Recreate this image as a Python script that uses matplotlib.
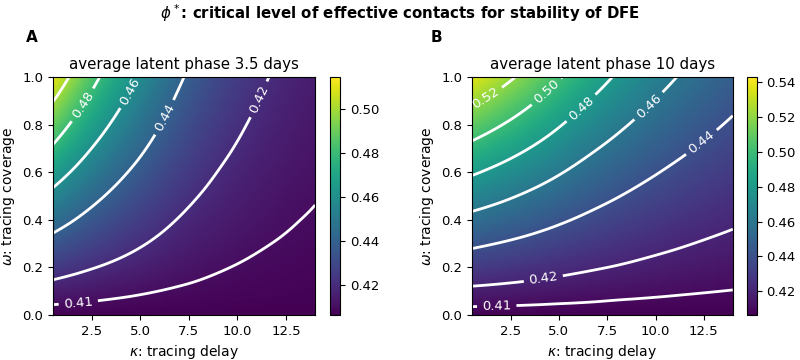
import matplotlib
matplotlib.use('Agg')
import matplotlib.pyplot as plt
import matplotlib.tri as mtri
import numpy as np

# grid of the parameter scan
kappa = [0.5, 2.0, 3.5, 5.0, 6.5, 8.0, 9.5, 11.0, 12.5, 14.0]
omega = [0.0, 0.1, 0.2, 0.3, 0.4, 0.5, 0.6, 0.7, 0.8, 0.9, 1.0]

# phi*, one list per kappa column (omega 0 -> 1)
phi_latent_3_5 = [
    [0.4063, 0.4152, 0.4253, 0.4354, 0.4458, 0.4563, 0.4670, 0.4781, 0.4892, 0.5004, 0.5115],
    [0.4063, 0.4135, 0.4216, 0.4298, 0.4381, 0.4465, 0.4552, 0.4641, 0.4730, 0.4820, 0.4910],
    [0.4063, 0.4120, 0.4185, 0.4249, 0.4315, 0.4382, 0.4450, 0.4521, 0.4592, 0.4663, 0.4734],
    [0.4063, 0.4107, 0.4158, 0.4208, 0.4259, 0.4311, 0.4364, 0.4419, 0.4474, 0.4530, 0.4585],
    [0.4063, 0.4096, 0.4134, 0.4172, 0.4210, 0.4249, 0.4289, 0.4330, 0.4372, 0.4413, 0.4455],
    [0.4063, 0.4088, 0.4115, 0.4143, 0.4171, 0.4200, 0.4230, 0.4260, 0.4291, 0.4321, 0.4352],
    [0.4063, 0.4081, 0.4101, 0.4122, 0.4143, 0.4164, 0.4185, 0.4208, 0.4230, 0.4253, 0.4275],
    [0.4063, 0.4076, 0.4091, 0.4106, 0.4122, 0.4137, 0.4153, 0.4169, 0.4186, 0.4202, 0.4219],
    [0.4063, 0.4073, 0.4084, 0.4095, 0.4106, 0.4117, 0.4129, 0.4141, 0.4153, 0.4165, 0.4177],
    [0.4063, 0.4070, 0.4078, 0.4086, 0.4095, 0.4103, 0.4112, 0.4120, 0.4129, 0.4138, 0.4147],
]

# phi*
phi_latent_10 = [
    [0.4063, 0.4174, 0.4300, 0.4426, 0.4554, 0.4685, 0.4819, 0.4956, 0.5095, 0.5234, 0.5373],
    [0.4063, 0.4165, 0.4280, 0.4394, 0.4512, 0.4631, 0.4753, 0.4879, 0.5005, 0.5132, 0.5259],
    [0.4063, 0.4155, 0.4258, 0.4361, 0.4467, 0.4574, 0.4684, 0.4797, 0.4911, 0.5025, 0.5139],
    [0.4063, 0.4144, 0.4235, 0.4326, 0.4420, 0.4515, 0.4612, 0.4712, 0.4812, 0.4913, 0.5014],
    [0.4063, 0.4134, 0.4213, 0.4293, 0.4374, 0.4457, 0.4541, 0.4628, 0.4716, 0.4804, 0.4892],
    [0.4063, 0.4124, 0.4194, 0.4263, 0.4333, 0.4406, 0.4479, 0.4555, 0.4631, 0.4708, 0.4784],
    [0.4063, 0.4116, 0.4176, 0.4236, 0.4297, 0.4360, 0.4424, 0.4489, 0.4556, 0.4622, 0.4688],
    [0.4063, 0.4109, 0.4161, 0.4213, 0.4266, 0.4321, 0.4376, 0.4433, 0.4490, 0.4548, 0.4605],
    [0.4063, 0.4103, 0.4148, 0.4193, 0.4239, 0.4286, 0.4334, 0.4384, 0.4433, 0.4483, 0.4533],
    [0.4063, 0.4098, 0.4137, 0.4176, 0.4216, 0.4256, 0.4298, 0.4341, 0.4384, 0.4427, 0.4470],
]

levels = [0.41, 0.42, 0.44, 0.46, 0.48, 0.50, 0.52]
titles = ['average latent phase 3.5 days', 'average latent phase 10 days']
tags = ['A', 'B']
color_limits = [(0.4063, 0.5147), (0.4063, 0.543)]

# where the inline labels sit (kappa, omega)
label_levels = [[0.41, 0.42, 0.44, 0.46, 0.48],
                [0.41, 0.42, 0.44, 0.46, 0.48, 0.50, 0.52]]
label_spots = [
    [(1.8, 0.053), (11.0, 0.91), (6.18, 0.833), (4.38, 0.945), (1.89, 0.89)],
    [(1.78, 0.042), (4.19, 0.154), (12.29, 0.735), (9.6, 0.882), (6.09, 0.875),
     (4.36, 0.938), (1.26, 0.903)],
]


def smooth_field(cols):
    # triangulate the scan grid (kappa rescaled so cells are near square)
    # and let matplotlib's cubic interpolator render it smoothly
    z = np.array(cols).T
    span = kappa[-1] - kappa[0]
    kk, ww = np.meshgrid(np.array(kappa) / span, omega)
    nr, nc = z.shape
    tris = []
    for r in range(nr - 1):
        for c in range(nc - 1):
            a = r * nc + c
            tris.append([a, a + 1, a + nc + 1])
            tris.append([a, a + nc + 1, a + nc])
    tri = mtri.Triangulation(kk.ravel(), ww.ravel(), tris)
    interp = mtri.CubicTriInterpolator(tri, z.ravel(), kind='min_E')
    fine, zf = mtri.UniformTriRefiner(tri).refine_field(
        z.ravel(), triinterpolator=interp, subdiv=3)
    fine = mtri.Triangulation(fine.x * span, fine.y, fine.triangles)
    return fine, zf


fig = plt.figure(figsize=(8, 3.6), dpi=100)
fig.suptitle(r'$\phi^*$: critical level of effective contacts for stability of DFE',
             fontsize=10.8, fontweight='bold', y=0.995)

ax_pos = [[0.0663, 0.125, 0.3275, 0.661], [0.59, 0.125, 0.326, 0.661]]
cax_pos = [[0.4125, 0.125, 0.0125, 0.661], [0.9334, 0.125, 0.0125, 0.661]]
tag_x = [0.04, 0.546]

for i, data in enumerate([phi_latent_3_5, phi_latent_10]):
    fine, zf = smooth_field(data)
    ax = fig.add_axes(ax_pos[i])
    cax = fig.add_axes(cax_pos[i])
    vmin, vmax = color_limits[i]
    mesh = ax.tripcolor(fine, zf, shading='gouraud', cmap='viridis',
                        vmin=vmin, vmax=vmax)
    cs = ax.tricontour(fine, zf, levels=levels, colors='white', linewidths=2)
    ax.clabel(cs, levels=label_levels[i], fmt='%.2f', fontsize=9.5,
              inline=True, manual=label_spots[i])
    ax.set_xlim(0.5, 14)
    ax.set_ylim(0, 1)
    ax.set_title(titles[i], fontsize=10.8)
    ax.set_xlabel(r'$\kappa$: tracing delay', fontsize=10)
    ax.set_ylabel(r'$\omega$: tracing coverage', fontsize=10)
    ax.tick_params(labelsize=9.5)
    cb = fig.colorbar(mesh, cax=cax)
    cb.ax.tick_params(labelsize=9.5)
    fig.text(tag_x[i], 0.895, tags[i], fontsize=11, fontweight='bold',
             ha='center', va='center')

fig.savefig('out.png', dpi=100)
